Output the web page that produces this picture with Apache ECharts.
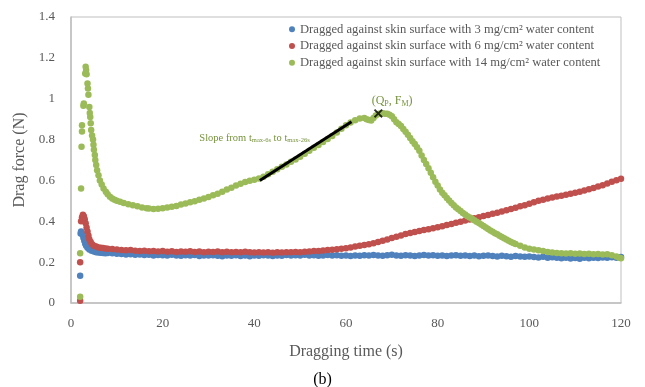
<!DOCTYPE html>
<html>
<head>
<meta charset="utf-8">
<script src="https://cdn.jsdelivr.net/npm/echarts@6/dist/echarts.min.js"></script>
<style>html,body{margin:0;padding:0;background:#fff}#main{width:645px;height:387px}</style>
</head>
<body>
<div id="main"></div>
<script>
const seriesNames = [
  'Dragged against skin surface with 3 mg/cm\u00b2 water content',
  'Dragged against skin surface with 6 mg/cm\u00b2 water content',
  'Dragged against skin surface with 14 mg/cm\u00b2 water content'
];
const xTicks = [0, 20, 40, 60, 80, 100, 120];
const yTicks = [0, 0.2, 0.4, 0.6, 0.8, 1, 1.2, 1.4];

// [time (s), drag force (N)]
const water3 = [
  [2.0,0.134],[2.1,0.34],[2.2,0.35],[2.3,0.345],[2.5,0.335],[2.7,0.32],[2.9,0.305],[3.1,0.29],[3.3,0.28],[3.6,0.27],
  [4.0,0.262],[4.5,0.256],[5,0.252],[5.5,0.249],[6,0.247],[6.5,0.246],[7,0.245],[7.5,0.244],
  [8,0.245],[9,0.243],[10,0.241],[11,0.240],[12,0.238],[13,0.239],[14,0.236],[15,0.237],[16,0.235],[17,0.236],
  [18,0.233],[19,0.235],[20,0.234],[21,0.232],[22,0.236],[23,0.233],[24,0.231],[25,0.234],[26,0.232],[27,0.235],
  [28,0.230],[29,0.233],[30,0.232],[31,0.234],[32,0.231],[33,0.229],[34,0.233],[35,0.231],[36,0.234],[37,0.230],
  [38,0.232],[39,0.229],[40,0.233],[41,0.231],[42,0.234],[43,0.232],[44,0.230],[45,0.233],[46,0.231],[47,0.235],
  [48,0.232],[49,0.234],[50,0.233],[51,0.236],[52,0.232],[53,0.234],[54,0.231],[55,0.233],[56,0.235],[57,0.232],
  [58,0.234],[59,0.231],[60,0.233],[61,0.230],[62,0.233],[63,0.231],[64,0.234],[65,0.232],[66,0.235],[67,0.233],
  [68,0.231],[69,0.234],[70,0.236],[71,0.233],[72,0.231],[73,0.234],[74,0.232],[75,0.230],[76,0.233],[77,0.235],
  [78,0.232],[79,0.234],[80,0.231],[81,0.233],[82,0.230],[83,0.232],[84,0.234],[85,0.231],[86,0.233],[87,0.230],
  [88,0.232],[89,0.229],[90,0.231],[91,0.233],[92,0.230],[93,0.228],[94,0.231],[95,0.229],[96,0.227],[97,0.230],
  [98,0.228],[99,0.226],[100,0.228],[101,0.225],[102,0.223],[103,0.226],[104,0.222],[105,0.224],[106,0.221],
  [107,0.219],[108,0.222],[109,0.218],[110,0.220],[111,0.217],[112,0.221],[113,0.219],[114,0.222],[115,0.220],
  [116,0.223],[117,0.221],[118,0.224],[119,0.222],[120,0.225]
];
const water6 = [
  [2.0,0.011],[2.0,0.20],[2.2,0.40],[2.4,0.42],[2.6,0.432],[2.8,0.425],[3.0,0.41],[3.2,0.39],[3.4,0.37],[3.6,0.35],
  [3.8,0.33],[4.0,0.312],[4.3,0.298],[4.6,0.288],[5,0.280],[5.5,0.276],[6,0.272],[6.5,0.270],[7,0.269],[7.5,0.267],
  [8,0.266],[9,0.264],[10,0.262],[11,0.260],[12,0.258],[13,0.259],[14,0.256],[15,0.255],[16,0.256],[17,0.253],
  [18,0.254],[19,0.252],[20,0.254],[21,0.251],[22,0.253],[23,0.250],[24,0.252],[25,0.251],[26,0.253],[27,0.250],
  [28,0.252],[29,0.249],[30,0.251],[31,0.250],[32,0.252],[33,0.249],[34,0.251],[35,0.248],[36,0.250],[37,0.249],
  [38,0.251],[39,0.248],[40,0.247],[41,0.249],[42,0.247],[43,0.249],[44,0.246],[45,0.248],[46,0.247],[47,0.249],
  [48,0.248],[49,0.250],[50,0.249],[51,0.251],[52,0.252],[53,0.254],[54,0.255],[55,0.257],[56,0.259],[57,0.261],
  [58,0.263],[59,0.266],[60,0.268],[61,0.272],[62,0.276],[63,0.280],[64,0.284],[65,0.288],[66,0.293],[67,0.299],
  [68,0.305],[69,0.311],[70,0.318],[71,0.324],[72,0.331],[73,0.338],[74,0.343],[75,0.348],[76,0.352],[77,0.357],
  [78,0.361],[79,0.366],[80,0.371],[81,0.376],[82,0.382],[83,0.387],[84,0.393],[85,0.398],[86,0.404],[87,0.409],
  [88,0.415],[89,0.420],[90,0.426],[91,0.431],[92,0.437],[93,0.442],[94,0.448],[95,0.454],[96,0.460],[97,0.466],
  [98,0.473],[99,0.479],[100,0.486],[101,0.493],[102,0.501],[103,0.506],[104,0.511],[105,0.516],[106,0.521],
  [107,0.525],[108,0.530],[109,0.535],[110,0.540],[111,0.545],[112,0.551],[113,0.557],[114,0.563],[115,0.570],
  [116,0.577],[117,0.585],[118,0.593],[119,0.601],[120,0.608]
];
const water14 = [
  [2.0,0.031],[2.0,0.243],[2.2,0.56],[2.3,0.765],[2.4,0.84],[2.4,0.87],[2.7,0.965],[2.8,0.977],[3.1,1.124],[3.2,1.157],
  [3.3,1.14],[3.4,1.12],[3.6,1.075],[3.7,1.05],[3.8,1.02],[4.0,0.96],[4.1,0.93],[4.2,0.91],[4.3,0.88],[4.4,0.847],
  [4.6,0.82],[4.8,0.80],[4.9,0.775],[5.0,0.75],[5.2,0.725],[5.3,0.70],[5.5,0.675],[5.7,0.65],[6.0,0.625],[6.3,0.60],
  [6.7,0.58],[7.1,0.56],[7.6,0.545],[8.0,0.532],[8.5,0.52],[9.0,0.512],[9.5,0.505],[10,0.50],[10.7,0.496],[11.5,0.49],
  [12.5,0.484],[13.5,0.478],[14.5,0.473],[15.5,0.468],[16.5,0.464],
  [17,0.462],[18,0.460],[19,0.461],[20,0.464],[21,0.467],[22,0.471],[23,0.475],[24,0.482],[25,0.487],[26,0.493],
  [27,0.498],[28,0.505],[29,0.511],[30,0.519],[31,0.527],[32,0.535],[33,0.545],[34,0.555],[35,0.564],[36,0.575],
  [37,0.584],[38,0.592],[39,0.598],[40,0.603],[41,0.609],[42,0.618],[43,0.630],[44,0.643],[45,0.655],[46,0.667],
  [47,0.678],[48,0.691],[49,0.703],[50,0.716],[51,0.731],[52,0.745],[53,0.760],[54,0.774],[55,0.788],[56,0.803],
  [57,0.818],[58,0.835],[59,0.853],[60,0.870],[61,0.884],[62,0.895],[63,0.903],[64,0.906],[64.5,0.900],[65,0.896],
  [65.5,0.893],[66,0.905],[66.5,0.918],[67,0.925],[67.5,0.928],[68,0.929],[68.5,0.927],[69,0.926],[69.5,0.922],
  [70,0.914],[70.5,0.900],[71,0.885],[71.5,0.876],[72,0.866],[72.5,0.852],[73,0.838],[73.5,0.823],[74,0.808],
  [74.5,0.792],[75,0.778],[75.5,0.762],[76,0.745],[76.5,0.722],[77,0.700],[77.5,0.680],[78,0.660],[78.5,0.637],
  [79,0.615],[79.5,0.594],[80,0.575],[80.5,0.556],[81,0.540],[81.5,0.527],[82,0.514],[82.5,0.502],[83,0.490],
  [83.5,0.479],[84,0.468],[84.5,0.459],[85,0.450],[85.5,0.441],[86,0.433],[86.5,0.425],[87,0.418],[87.5,0.412],
  [88,0.405],[88.5,0.398],[89,0.391],[89.5,0.384],[90,0.377],[90.5,0.370],[91,0.362],[91.5,0.355],[92,0.349],
  [92.5,0.342],[93,0.336],[93.5,0.329],[94,0.323],[94.5,0.317],[95,0.311],[95.5,0.305],[96,0.299],[96.5,0.294],
  [97,0.289],[98,0.280],[99,0.272],[100,0.266],[101,0.262],[102,0.258],[103,0.254],[104,0.250],[105,0.247],
  [106,0.245],[107,0.244],[108,0.242],[109,0.243],[110,0.241],[111,0.242],[112,0.240],[113,0.241],[114,0.239],
  [115,0.240],[116,0.238],[117,0.239],[118,0.234],[119,0.228],[119.6,0.222],[120,0.219]
];
const slopeLine = [[41.2, 0.600], [61.2, 0.887]];
const peakPoint = [[67.05, 0.928]];
const slopeLabelAnchor = [28.0, 0.808];
const peakLabelAnchor = [65.6, 0.99];

const FONT = 'Liberation Serif';
const colors = ['#4F81BD', '#C0504D', '#9BBB59'];
const annColor = '#77933C';

const chart = echarts.init(document.getElementById('main'));
const scatter = (name, data, color) => ({
  name, type: 'scatter', data, symbolSize: 6.5,
  itemStyle: { color, opacity: 1 }, emphasis: { disabled: true }
});
chart.setOption({
  animation: false,
  color: colors,
  grid: { left: 71, right: 24, top: 17, bottom: 84, show: true, borderColor: '#bfbfbf', borderWidth: 1 },
  legend: {
    orient: 'vertical', left: 289, top: 21, padding: 0, itemGap: 0,
    itemWidth: 6, itemHeight: 6, icon: 'circle',
    data: seriesNames,
    textStyle: { fontFamily: FONT, fontSize: 12.6, color: '#595959', lineHeight: 16.7 }
  },
  title: {
    text: '(b)', left: 'center', top: 367,
    textStyle: { fontFamily: FONT, fontSize: 16, color: '#000', fontWeight: 'normal' }
  },
  xAxis: {
    type: 'value', min: xTicks[0], max: xTicks[xTicks.length - 1], interval: 20,
    axisLine: { show: true, lineStyle: { color: '#bfbfbf', width: 1.5 } },
    axisTick: { show: false }, splitLine: { show: false },
    axisLabel: { color: '#595959', fontFamily: FONT, fontSize: 13, margin: 14 },
    name: 'Dragging time (s)', nameLocation: 'middle', nameGap: 41,
    nameTextStyle: { color: '#595959', fontFamily: FONT, fontSize: 16 }
  },
  yAxis: {
    type: 'value', min: yTicks[0], max: yTicks[yTicks.length - 1], interval: 0.2,
    axisLine: { show: true, lineStyle: { color: '#bfbfbf', width: 1.5 } },
    axisTick: { show: false }, splitLine: { show: false },
    axisLabel: { color: '#595959', fontFamily: FONT, fontSize: 13, margin: 16 },
    name: 'Drag force (N)', nameLocation: 'middle', nameGap: 42,
    nameTextStyle: { color: '#595959', fontFamily: FONT, fontSize: 16 }
  },
  series: [
    scatter(seriesNames[0], water3, colors[0]),
    scatter(seriesNames[1], water6, colors[1]),
    scatter(seriesNames[2], water14, colors[2]),
    {
      name: 'slope', type: 'line', data: slopeLine, symbol: 'none', z: 5,
      lineStyle: { color: '#000', width: 3 }, emphasis: { disabled: true }
    },
    {
      name: 'peak', type: 'scatter', data: peakPoint, z: 6, symbolSize: 9,
      symbol: 'path://M0,1.5 L1.5,0 L5,3.5 L8.5,0 L10,1.5 L6.5,5 L10,8.5 L8.5,10 L5,6.5 L1.5,10 L0,8.5 L3.5,5 Z',
      itemStyle: { color: '#000' }, emphasis: { disabled: true }
    }
  ]
});

const sp = chart.convertToPixel({ gridIndex: 0 }, slopeLabelAnchor);
const pp = chart.convertToPixel({ gridIndex: 0 }, peakLabelAnchor);
chart.setOption({
  graphic: [
    {
      type: 'text', x: sp[0], y: sp[1], z: 10,
      style: {
        text: 'Slope from t{s|max-6s} to t{s|max-26s}',
        fill: annColor, font: '10.5px "' + FONT + '"', verticalAlign: 'middle', align: 'left',
        rich: { s: { fontSize: 6.5, fontFamily: FONT, fill: annColor, padding: [5, 0, 0, 0] } }
      }
    },
    {
      type: 'text', x: pp[0], y: pp[1], z: 10,
      style: {
        text: '(Q{s|P}, F{s|M})',
        fill: annColor, font: '12px "' + FONT + '"', verticalAlign: 'middle', align: 'left',
        rich: { s: { fontSize: 8, fontFamily: FONT, fill: annColor, padding: [6, 0, 0, 0] } }
      }
    }
  ]
});
</script>
</body>
</html>
